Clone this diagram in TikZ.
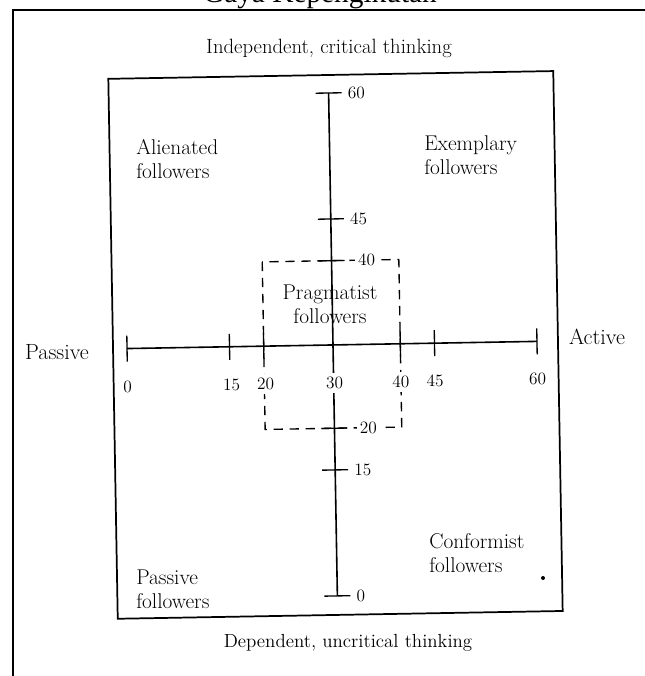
\documentclass[tikz,border=0pt]{standalone}
\usepackage{fontspec}
\newfontfamily\titlefont{Liberation Serif}
\begin{document}
\begin{tikzpicture}[x=0.75pt,y=0.75pt,yscale=-1,xscale=1,
  frameline/.style={line width=1.3pt},
  axisline/.style={line width=1.2pt},
  tickline/.style={line width=1pt},
  dashbox/.style={line width=1pt,dash pattern={on 7pt off 5pt}},
  lbl/.style={inner sep=0.75pt,font=\fontsize{16}{18}\selectfont,align=left},
  num/.style={inner sep=0.75pt,font=\fontsize{13}{15}\selectfont}]
\useasboundingbox (0,0) rectangle (645,676);

% Title, cut by the top of the page
\node (title) at (320,2) [anchor=base,font=\titlefont\fontsize{22}{24}\selectfont] {Gaya Kepengikutan};

% Outer frame
\coordinate (fbl) at (13,676);
\coordinate (ftl) at (13,10);
\coordinate (ftr) at (645,10);
\draw[frameline] (fbl) -- (ftl) -- (ftr);

\begin{scope}[rotate around={-1:(330,345)}]
% Inner box
\coordinate (btl) at (113,75);
\coordinate (btr) at (558,75);
\coordinate (bbr) at (558,615);
\coordinate (bbl) at (113,615);
\draw[frameline] (btl) -- (btr) -- (bbr) -- (bbl) -- cycle;

% Vertical axis
\coordinate (v0) at (333,596);
\coordinate (v60) at (333,93);
\draw[axisline] (v0) -- (v60);
\foreach \val/\yy in {60/93,45/219,15/470,0/596}{
  \draw[tickline] (320,\yy) -- (346,\yy);
  \node[num,anchor=west] (vl\val) at (351,\yy) {\val};
}
\foreach \yy in {260.7,428.3}
  \draw[tickline] (320,\yy) -- (346,\yy);

% Horizontal axis
\coordinate (h0) at (127,345);
\coordinate (h60) at (537,345);
\draw[axisline] (h0) -- (h60);
\foreach \val/\xx in {0/127,15/229.5,20/263.7,40/400.3,45/434.5,60/537}
  \draw[tickline] (\xx,332) -- (\xx,358);

% Pragmatist region
\coordinate (ptl) at (263.7,260.7);
\coordinate (pbr) at (400.3,428.3);
\draw[dashbox] (ptl) rectangle (pbr);
\node[num,fill=white,inner xsep=2pt] (p40) at (368,260.7) {40};
\node[num,fill=white,inner xsep=2pt] (p20) at (367,428.3) {20};

% Horizontal axis labels
\foreach \val/\xx in {0/127,15/231,20/265,30/334,40/400.3,45/434.5,60/537}
  \node[num,fill=white,inner ysep=3pt] (hl\val) at (\xx,383) {\val};
\end{scope}

% Axis titles
\node[lbl,font=\fontsize{15.5}{18}\selectfont] (indep) at (329,48) {Independent, critical thinking};
\node[lbl,font=\fontsize{14.2}{18}\selectfont] (dep) at (348,643) {Dependent, uncritical thinking};
\node[lbl,font=\fontsize{16.5}{18}\selectfont] (passive) at (57,352) {Passive};
\node[lbl,font=\fontsize{16.5}{18}\selectfont] (active) at (597,337) {Active};

% Quadrant labels
\node[lbl,anchor=west] (alien) at (135,159) {Alienated\\followers};
\node[lbl,anchor=west] (exemp) at (423,155) {Exemplary\\followers};
\node[lbl,align=center] (prag) at (330,304) {Pragmatist\\followers};
\node[lbl,anchor=west] (passf) at (135,589) {Passive\\followers};
\node[lbl,anchor=west] (conf) at (428,553) {Conformist\\followers};
\fill (543,578) circle (2);
\end{tikzpicture}
\end{document}
